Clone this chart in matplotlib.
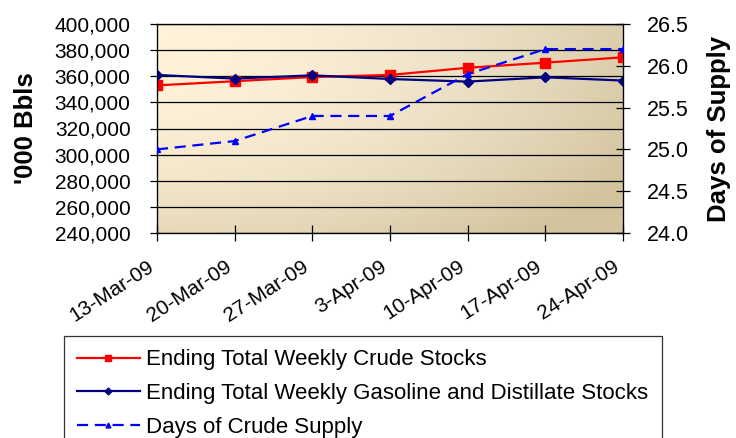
import matplotlib.pyplot as plt
import numpy as np

plt.rcParams['font.family'] = ['Liberation Sans', 'DejaVu Sans']

dates = ['13-Mar-09', '20-Mar-09', '27-Mar-09', '3-Apr-09', '10-Apr-09', '17-Apr-09', '24-Apr-09']
crude = [353000, 356200, 359400, 361000, 366500, 370400, 374500]
gasdist = [361000, 358200, 360700, 357900, 355900, 359200, 356700]
days = [25.0, 25.1, 25.4, 25.4, 25.9, 26.2, 26.2]

fig = plt.figure(figsize=(7.36, 4.38), dpi=100)
ax = fig.add_axes([157/736, 1-233/438, 466/736, 209/438])

# gradient background: light cream top-left, tan towards bottom/right
nx, ny = 200, 100
gx = np.linspace(0, 1, nx)[None, :]
gy = np.linspace(0, 1, ny)[:, None]
light = np.array([1.0, 0.95, 0.85])
mid = np.array([0.95, 0.92, 0.84])
dark = np.array([0.83, 0.77, 0.62])
t = np.clip(0.75 * gx**2.2 + 0.55 * gy**2.5, 0, 1)[..., None]
base = light * (1 - gx[..., None]) + mid * gx[..., None]
img = base * (1 - t) + dark * t
ax.imshow(img, extent=[0, 6, 240000, 400000], aspect='auto', origin='upper', zorder=0)

x = np.arange(len(dates))
ax.plot(x, crude, color='#FF0000', lw=1.6, marker='s', ms=7, zorder=4,
        label='Ending Total Weekly Crude Stocks')
ax.plot(x, gasdist, color='#000080', lw=1.6, marker='D', ms=5, zorder=4,
        label='Ending Total Weekly Gasoline and Distillate Stocks')

ax.set_xlim(0, 6)
ax.set_ylim(240000, 400000)
ax.set_yticks(np.arange(240000, 400001, 20000))
ax.set_yticklabels([f'{v:,}' for v in range(240000, 400001, 20000)], fontsize=15)
ax.yaxis.grid(True, color='black', lw=0.9)
ax.set_axisbelow(False)
ax.set_xticks(x)
ax.set_xticklabels(dates, rotation=33, ha='right', va='top', fontsize=15)
ax.tick_params(axis='x', length=12, width=0.9, direction='inout', pad=11)
ax.tick_params(axis='y', length=5, width=0.9, direction='out', pad=14)
ax.set_ylabel("'000 Bbls", fontsize=18.5, fontweight='bold', labelpad=12)
for s in ax.spines.values():
    s.set_linewidth(0.9)

ax2 = ax.twinx()
ax2.plot(x, days, color='#0000FF', lw=1.6, ls=(0, (5, 3)), marker='^', ms=5, zorder=4,
         label='Days of Crude Supply')
ax2.set_ylim(24.0, 26.5)
ax2.set_yticks(np.arange(24.0, 26.51, 0.5))
ax2.set_yticklabels([f'{v:.1f}' for v in np.arange(24.0, 26.51, 0.5)], fontsize=15.5)
ax2.tick_params(axis='y', length=10, width=0.9, direction='inout', pad=12)
ax2.set_ylabel('Days of Supply', fontsize=18.5, fontweight='bold', labelpad=13)
ax2.set_xlim(0, 6)

h1, l1 = ax.get_legend_handles_labels()
h2, l2 = ax2.get_legend_handles_labels()
leg = fig.legend(h1 + h2, l1 + l2, loc='upper left', bbox_to_anchor=(64/736, 1-336/438),
                 fontsize=16, frameon=True, fancybox=False, edgecolor='black',
                 handlelength=2.8, handletextpad=0.3, labelspacing=0.58,
                 borderpad=0.6, borderaxespad=0, markerscale=0.7)
leg.get_frame().set_linewidth(0.9)

fig.savefig('out.png', dpi=100)
